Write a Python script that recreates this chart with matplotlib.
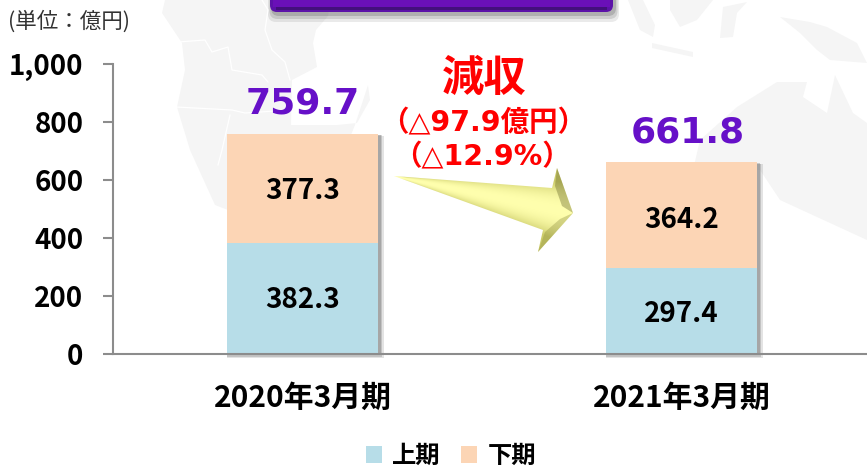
import numpy as np
import matplotlib
matplotlib.use('Agg')
import matplotlib.pyplot as plt
from matplotlib.patches import Polygon, FancyBboxPatch, Rectangle

plt.rcParams['font.family'] = ['Noto Sans CJK JP', 'DejaVu Sans']

# データ
periods = ['2020年3月期', '2021年3月期']
first_half = [382.3, 297.4]
second_half = [377.3, 364.4]
second_labels = ['377.3', '364.2']
first_labels = ['382.3', '297.4']
totals = ['759.7', '661.8']
yticks = [0, 200, 400, 600, 800, 1000]
ytick_labels = ['0', '200', '400', '600', '800', '1,000']

W, H = 867, 470
fig = plt.figure(figsize=(W / 100, H / 100), dpi=100, facecolor='white')

# 背景の地図とタイトル枠はピクセル座標で描く
bg = fig.add_axes([0, 0, 1, 1], zorder=0)
bg.set_xlim(0, W)
bg.set_ylim(H, 0)
bg.axis('off')
map_color = '#f5f5f5'
map_shapes = [
    [(165, 0), (330, 0), (328, 16), (316, 30), (313, 43), (317, 67), (292, 80), (291, 125), (337, 125), (357, 123),
     (370, 100), (368, 85), (355, 125), (345, 150), (228, 210), (215, 205), (190, 150), (177, 107), (185, 70),
     (182, 43), (162, 13)],
    [(693, 170), (700, 140), (737, 107), (777, 82), (807, 82), (803, 97), (827, 113), (835, 75), (853, 113),
     (867, 123), (867, 240), (780, 200), (760, 170)],
    [(780, 17), (810, 22), (827, 27), (857, 43), (867, 63), (830, 60), (817, 50), (800, 33)],
    [(670, 0), (713, 0), (697, 20), (680, 27), (670, 10)],
    [(628, 0), (643, 0), (655, 25), (653, 37), (640, 30)],
    [(652, 43), (693, 52), (693, 57), (652, 48)],
    [(723, 7), (747, 2), (737, 13), (733, 37), (720, 38)],
]
for shape in map_shapes:
    bg.add_patch(Polygon(shape, fc=map_color, ec='none'))
# 国境の白線
border_lines = [
    [(178, 42), (205, 40), (212, 52), (228, 47), (232, 70), (262, 75), (268, 82)],
    [(176, 107), (232, 110), (245, 113), (290, 110)],
    [(262, 0), (268, 10), (265, 30), (272, 50), (285, 62), (290, 80)],
    [(230, 115), (222, 150), (218, 165)],
]
for line in border_lines:
    xs, ys = zip(*line)
    bg.plot(xs, ys, color='white', lw=0.9)

# タイトル枠（影は数枚重ねてぼかす）
for grow, alpha in zip([8, 5, 2], [0.12, 0.18, 0.25]):
    bg.add_patch(FancyBboxPatch((272 - grow / 2, -20), 343 + grow, 34 + grow, boxstyle='round,pad=0,rounding_size=8',
                                fc='#555555', ec='none', alpha=alpha))
bg.add_patch(FancyBboxPatch((270, -20), 343, 32, boxstyle='round,pad=0,rounding_size=7', fc='#5c12a8', ec='none'))
bg.add_patch(Rectangle((276, 7), 331, 3, fc='#43107c', ec='none'))
bg.add_patch(Rectangle((273, -5), 337, 12, fc='#6a10b8', ec='none'))

# グラフ本体
x0, x1, y_top, y_bot = 113, 871, 64, 354
ax = fig.add_axes([x0 / W, 1 - y_bot / H, (x1 - x0) / W, (y_bot - y_top) / H], zorder=1)
ax.patch.set_alpha(0)
pos = np.arange(len(periods))
bar_w = 0.4

# 棒の影
for off, alpha in zip([0.016, 0.011, 0.006], [0.18, 0.25, 0.3]):
    for p, a, b in zip(pos, first_half, second_half):
        ax.bar(p + off / 2, a + b + off * 300, bar_w + off, bottom=-off * 800, color='#666666', alpha=alpha,
               zorder=1, clip_on=False, lw=0)
ax.bar(pos, first_half, bar_w, color='#b7dde8', label='上期', zorder=2)
ax.bar(pos, second_half, bar_w, bottom=first_half, color='#fcd5b5', label='下期', zorder=2)

for i, (p, a, b, la, lb, t) in enumerate(zip(pos, first_half, second_half, first_labels, second_labels, totals)):
    ax.text(p, a / 2 - 6 - 6 * i, la, ha='center', va='center', fontsize=20, fontweight='bold', color='black', zorder=3)
    ax.text(p, a + b / 2 - 10 - 6 * i, lb, ha='center', va='center', fontsize=20, fontweight='bold', color='black', zorder=3)
    ax.text(p + 0.016 * i, a + b + 45, t, ha='center', va='bottom', fontsize=26, fontweight='bold', color='#6610c8',
            zorder=3, family='DejaVu Sans')

ax.set_xlim(-0.5, 1.5)
ax.set_ylim(0, 1000)
ax.set_yticks(yticks)
ax.set_yticklabels(ytick_labels, fontsize=20, fontweight='bold')
ax.set_xticks(pos)
ax.set_xticklabels(periods, fontsize=21.5, fontweight='bold')
ax.tick_params(axis='x', length=0, pad=21)
ax.tick_params(axis='y', direction='out', length=7.2, width=1.5, color='#8c8c8c', pad=14)
for s in ['top', 'right']:
    ax.spines[s].set_visible(False)
for s in ['left', 'bottom']:
    ax.spines[s].set_color('#8c8c8c')
    ax.spines[s].set_linewidth(1.5)

ax.legend(loc='center', bbox_to_anchor=((451 - x0) / (x1 - x0), (y_bot - 456) / (y_bot - y_top)), ncol=2, frameon=False,
          prop={'size': 17.5, 'weight': 'bold'}, handlelength=0.66, handleheight=0.66, handletextpad=0.42,
          columnspacing=0.85, borderpad=0, borderaxespad=0)

# 前面の注記
fg = fig.add_axes([0, 0, 1, 1], zorder=2)
fg.set_xlim(0, W)
fg.set_ylim(H, 0)
fg.axis('off')
red_family = ['DejaVu Sans', 'Noto Sans CJK JP']
fg.text(8, 22, '(単位：億円)', fontsize=15.5, color='#333333', va='center', ha='left')
fg.text(484, 79, '減収', fontsize=30.5, fontweight='bold', color='#ff0000', ha='center', va='center')
fg.text(483, 123, '（△97.9億円）', fontsize=20.5, fontweight='bold', color='#ff0000', ha='center', va='center',
        family=red_family)
fg.text(482, 157, '（△12.9%）', fontsize=20.5, fontweight='bold', color='#ff0000', ha='center', va='center',
        family=red_family)

# 矢印（中心線からの距離で陰影をつける）
tail = np.array([394.0, 176.0])
tip = np.array([573.0, 213.0])
arrow = Polygon([tail, (552, 188), (557, 168), tip, (538, 252), (543, 230)], closed=True, fc='none', ec='none')
fg.add_patch(arrow)
gx, gy = np.meshgrid(np.linspace(390, 578, 190), np.linspace(165, 255, 91))
u = (tip - tail) / np.linalg.norm(tip - tail)
along = (gx - tail[0]) * u[0] + (gy - tail[1]) * u[1]
across = -(gx - tail[0]) * u[1] + (gy - tail[1]) * u[0]
half = np.maximum(2, along * 26 / 150)
t = np.clip(np.abs(across) / half, 0, 1)
c_dark = np.array([0.80, 0.80, 0.42])
c_light = np.array([1.0, 1.0, 0.68])
img = c_light + (c_dark - c_light) * (t ** 2.2)[:, :, None]
im = fg.imshow(img, extent=(390, 578, 255, 165), aspect='auto', zorder=2)
im.set_clip_path(arrow)
# 矢じりの面
fg.add_patch(Polygon([(557, 168), (573, 213), (562, 206), (555, 186)], fc='#6e6e30', ec='none', alpha=0.4, zorder=3))
fg.add_patch(Polygon([(538, 252), (573, 213), (560, 219), (545, 232)], fc='#8a8a3c', ec='none', alpha=0.35, zorder=3))
fg.set_xlim(0, W)
fg.set_ylim(H, 0)

fig.savefig('out.png', dpi=100)
